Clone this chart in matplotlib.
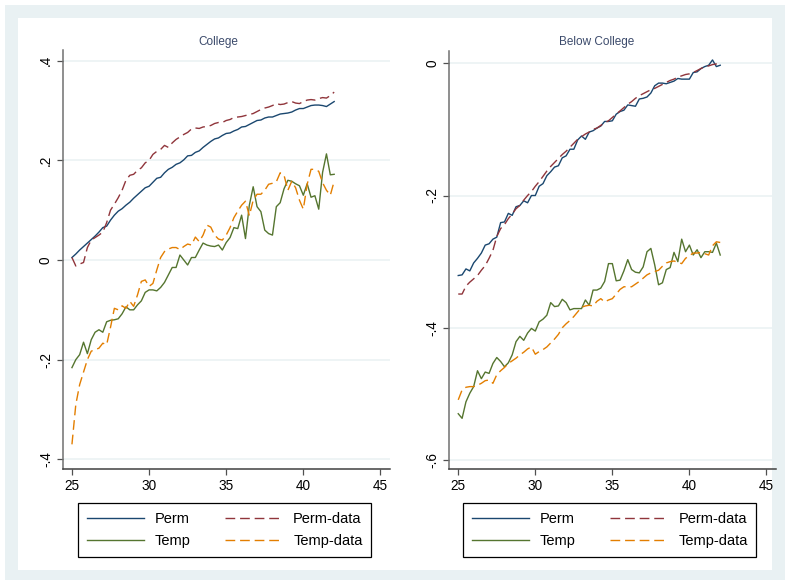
import matplotlib
matplotlib.use("Agg")
import matplotlib.pyplot as plt
from matplotlib.patches import Rectangle
import numpy as np

plt.rcParams['font.family'] = ['Liberation Sans', 'DejaVu Sans']

# ---------------- data ----------------
age = np.arange(25, 42.001, 0.25)

college_perm = [0.005, 0.012, 0.020, 0.027, 0.034, 0.041, 0.048, 0.056, 0.065, 0.068,
                0.080, 0.090, 0.098, 0.103, 0.110, 0.116, 0.124, 0.131, 0.138, 0.145,
                0.148, 0.156, 0.164, 0.166, 0.175, 0.182, 0.186, 0.192, 0.195, 0.201,
                0.209, 0.210, 0.216, 0.219, 0.226, 0.232, 0.238, 0.243, 0.245, 0.250,
                0.254, 0.255, 0.259, 0.262, 0.267, 0.268, 0.272, 0.276, 0.280, 0.281,
                0.285, 0.287, 0.287, 0.290, 0.293, 0.294, 0.295, 0.297, 0.301, 0.304,
                0.304, 0.307, 0.310, 0.311, 0.311, 0.310, 0.308, 0.313, 0.318]

college_perm_data = [0.005, -0.012, -0.008, -0.005, 0.025, 0.040, 0.045, 0.050, 0.056, 0.075,
                     0.100, 0.112, 0.125, 0.140, 0.160, 0.170, 0.172, 0.180, 0.185, 0.195,
                     0.200, 0.212, 0.218, 0.222, 0.230, 0.226, 0.235, 0.242, 0.247, 0.252,
                     0.256, 0.263, 0.265, 0.264, 0.267, 0.268, 0.270, 0.274, 0.276, 0.276,
                     0.280, 0.282, 0.286, 0.287, 0.288, 0.290, 0.292, 0.294, 0.298, 0.302,
                     0.305, 0.307, 0.310, 0.314, 0.312, 0.313, 0.316, 0.318, 0.315, 0.314,
                     0.318, 0.321, 0.322, 0.321, 0.324, 0.326, 0.325, 0.330, 0.337]

college_temp = [-0.216, -0.200, -0.190, -0.165, -0.188, -0.160, -0.145, -0.140, -0.145, -0.124,
                -0.121, -0.120, -0.118, -0.108, -0.094, -0.100, -0.100, -0.090, -0.082, -0.065,
                -0.060, -0.060, -0.062, -0.055, -0.045, -0.030, -0.015, -0.015, 0.010, 0.000,
                -0.010, 0.005, 0.005, 0.020, 0.034, 0.030, 0.028, 0.027, 0.030, 0.020,
                0.035, 0.045, 0.065, 0.063, 0.090, 0.043, 0.110, 0.147, 0.107, 0.097,
                0.060, 0.053, 0.050, 0.107, 0.115, 0.143, 0.160, 0.158, 0.153, 0.149,
                0.130, 0.153, 0.126, 0.129, 0.102, 0.176, 0.213, 0.171, 0.172]

college_temp_data = [-0.370, -0.290, -0.250, -0.225, -0.200, -0.183, -0.180, -0.177, -0.167, -0.170,
                     -0.135, -0.097, -0.100, -0.092, -0.097, -0.083, -0.093, -0.070, -0.043, -0.040,
                     -0.053, -0.047, -0.020, 0.005, 0.017, 0.022, 0.025, 0.025, 0.021, 0.027,
                     0.032, 0.030, 0.046, 0.037, 0.050, 0.070, 0.066, 0.050, 0.042, 0.040,
                     0.050, 0.065, 0.085, 0.098, 0.110, 0.118, 0.089, 0.120, 0.132, 0.132,
                     0.140, 0.152, 0.154, 0.157, 0.175, 0.170, 0.140, 0.158, 0.145, 0.120,
                     0.102, 0.152, 0.182, 0.182, 0.178, 0.155, 0.140, 0.130, 0.158]

below_perm = [-0.321, -0.320, -0.311, -0.314, -0.302, -0.295, -0.287, -0.275, -0.273, -0.266,
              -0.263, -0.241, -0.240, -0.227, -0.230, -0.217, -0.215, -0.208, -0.211, -0.200,
              -0.200, -0.186, -0.182, -0.170, -0.164, -0.157, -0.155, -0.143, -0.140, -0.130,
              -0.130, -0.116, -0.110, -0.115, -0.104, -0.102, -0.098, -0.095, -0.088, -0.088,
              -0.087, -0.077, -0.073, -0.071, -0.063, -0.064, -0.065, -0.054, -0.053, -0.051,
              -0.045, -0.034, -0.030, -0.030, -0.031, -0.029, -0.027, -0.023, -0.024, -0.024,
              -0.024, -0.014, -0.013, -0.008, -0.005, -0.003, 0.005, -0.005, -0.003]

below_perm_data = [-0.349, -0.349, -0.337, -0.331, -0.326, -0.321, -0.313, -0.306, -0.295, -0.283,
                   -0.262, -0.250, -0.244, -0.235, -0.228, -0.220, -0.215, -0.207, -0.200, -0.194,
                   -0.186, -0.179, -0.171, -0.163, -0.156, -0.150, -0.144, -0.138, -0.133, -0.127,
                   -0.121, -0.115, -0.111, -0.107, -0.104, -0.100, -0.098, -0.094, -0.090, -0.087,
                   -0.082, -0.077, -0.072, -0.067, -0.062, -0.058, -0.053, -0.049, -0.046, -0.043,
                   -0.040, -0.038, -0.035, -0.032, -0.029, -0.026, -0.024, -0.021, -0.019, -0.017,
                   -0.016, -0.014, -0.011, -0.008, -0.005, -0.004, -0.002, -0.001, 0.000]

below_temp = [-0.530, -0.537, -0.512, -0.499, -0.489, -0.465, -0.477, -0.467, -0.469, -0.454,
              -0.445, -0.451, -0.459, -0.453, -0.441, -0.421, -0.413, -0.419, -0.408, -0.401,
              -0.405, -0.391, -0.387, -0.381, -0.362, -0.368, -0.367, -0.357, -0.362, -0.373,
              -0.371, -0.371, -0.371, -0.358, -0.366, -0.343, -0.343, -0.340, -0.330, -0.303,
              -0.303, -0.329, -0.328, -0.314, -0.297, -0.312, -0.316, -0.317, -0.308, -0.285,
              -0.280, -0.305, -0.335, -0.332, -0.312, -0.309, -0.286, -0.300, -0.266, -0.285,
              -0.275, -0.290, -0.282, -0.294, -0.285, -0.285, -0.286, -0.272, -0.290]

below_temp_data = [-0.509, -0.494, -0.490, -0.489, -0.489, -0.487, -0.484, -0.480, -0.479, -0.484,
                   -0.471, -0.465, -0.460, -0.454, -0.450, -0.446, -0.441, -0.437, -0.432, -0.429,
                   -0.440, -0.436, -0.433, -0.429, -0.423, -0.417, -0.410, -0.400, -0.394, -0.389,
                   -0.383, -0.376, -0.369, -0.367, -0.366, -0.367, -0.360, -0.356, -0.361, -0.358,
                   -0.356, -0.349, -0.342, -0.338, -0.338, -0.338, -0.334, -0.330, -0.325, -0.320,
                   -0.317, -0.315, -0.313, -0.307, -0.302, -0.300, -0.299, -0.301, -0.303, -0.295,
                   -0.291, -0.287, -0.287, -0.286, -0.288, -0.290, -0.276, -0.270, -0.271]

titles = ["College", "Below College"]
series_labels = ["Perm", "Perm-data", "Temp", "Temp-data"]
x_ticks = [25, 30, 35, 40, 45]
left_yticks = [-0.4, -0.2, 0.0, 0.2, 0.4]
left_yticklabels = ["-.4", "-.2", "0", ".2", ".4"]
right_yticks = [-0.6, -0.4, -0.2, 0.0]
right_yticklabels = ["-.6", "-.4", "-.2", "0"]

# ---------------- style ----------------
W, H = 790, 582
NAVY, MAROON, GREEN, ORANGE = "#1a476f", "#90353b", "#55752f", "#e37e00"
BG = "#e9f1f3"
TITLE_C = "#3b4a6b"

fig = plt.figure(figsize=(W / 100, H / 100), dpi=100, facecolor="white")

def px_rect(x0, y0, x1, y1):
    return (x0 / W, 1 - y1 / H, (x1 - x0) / W, (y1 - y0) / H)

r = px_rect(5, 5, 785, 580)
fig.patches.append(Rectangle((r[0], r[1]), r[2], r[3], transform=fig.transFigure,
                             facecolor=BG, edgecolor="none", zorder=-10))
r = px_rect(18, 18, 772, 570)
fig.patches.append(Rectangle((r[0], r[1]), r[2], r[3], transform=fig.transFigure,
                             facecolor="white", edgecolor="none", zorder=-9))

ax1 = fig.add_axes(px_rect(62.7, 50, 390, 469))
ax2 = fig.add_axes(px_rect(449, 50.7, 776, 469))

panels = [
    (ax1, college_perm, college_perm_data, college_temp, college_temp_data,
     left_yticks, left_yticklabels, (-0.4195, 0.4215)),
    (ax2, below_perm, below_perm_data, below_temp, below_temp_data,
     right_yticks, right_yticklabels, (-0.6136, 0.019)),
]

dash = (7, 3.5)
for ax, perm, perm_d, temp, temp_d, yt, ytl, ylim in panels:
    ax.set_facecolor("none")
    ax.plot(age, perm, color=NAVY, lw=1.0, label=series_labels[0], zorder=3)
    ax.plot(age, perm_d, color=MAROON, lw=1.0, dashes=dash, label=series_labels[1], zorder=3)
    ax.plot(age, temp, color=GREEN, lw=1.0, label=series_labels[2], zorder=3)
    ax.plot(age, temp_d, color=ORANGE, lw=1.0, dashes=dash, label=series_labels[3], zorder=3)
    ax.set_xlim(24.4, 45.62)
    ax.set_ylim(*ylim)
    ax.set_xticks(x_ticks)
    ax.set_xticklabels([str(t) for t in x_ticks])
    ax.set_yticks(yt)
    ax.set_yticklabels(ytl, rotation=90, va="center")
    ax.grid(axis="y", color=BG, lw=1.1, zorder=0)
    ax.set_axisbelow(True)
    for s in ("top", "right"):
        ax.spines[s].set_visible(False)
    ax.spines["left"].set_color("#707070")
    ax.spines["bottom"].set_color("#404040")
    ax.spines["left"].set_linewidth(1.1)
    ax.spines["bottom"].set_linewidth(1.1)
    ax.tick_params(axis="both", direction="out", length=4, width=0.9, color="#505050",
                   labelsize=9.8, pad=3, labelcolor="black")

fig.text(218 / W, 1 - 42 / H, titles[0], ha="center", va="center", fontsize=8.5, color=TITLE_C)
fig.text(597 / W, 1 - 42 / H, titles[1], ha="center", va="center", fontsize=8.5, color=TITLE_C)

for ax, x0 in ((ax1, 78), (ax2, 463)):
    hs, ls = ax.get_legend_handles_labels()
    order = [0, 2, 1, 3]
    leg = fig.legend([hs[i] for i in order], [ls[i] for i in order], ncol=2,
                     loc="upper left", bbox_to_anchor=(x0 / W, 1 - 503 / H),
                     bbox_transform=fig.transFigure, frameon=True, fancybox=False,
                     edgecolor="black", facecolor="white", framealpha=1,
                     fontsize=10.5, handlelength=3.9, handletextpad=0.75,
                     columnspacing=2.4, labelspacing=0.6, borderpad=0.6,
                     borderaxespad=0)
    leg.get_frame().set_linewidth(0.9)

fig.savefig("out.png", dpi=100, facecolor=fig.get_facecolor())
